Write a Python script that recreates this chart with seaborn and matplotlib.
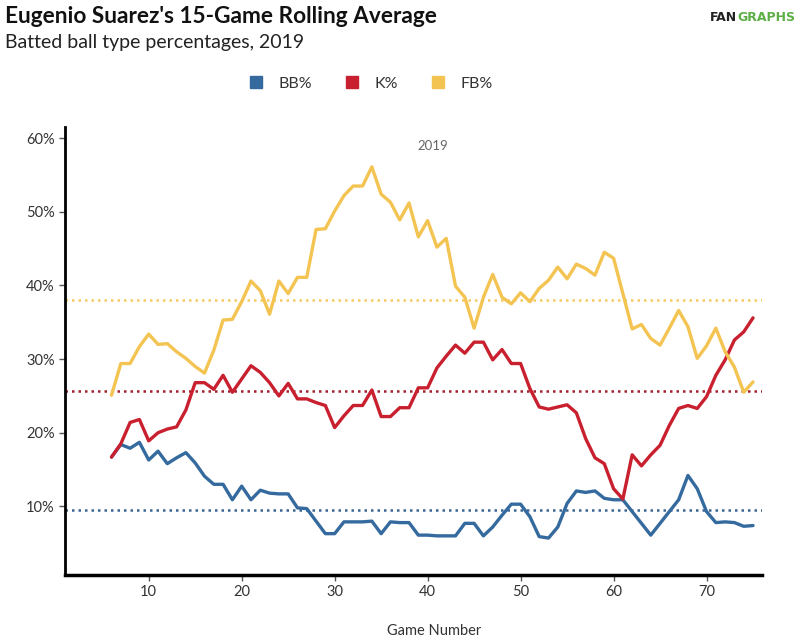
import numpy as np
import pandas as pd
import seaborn as sns
import matplotlib.pyplot as plt
from matplotlib.lines import Line2D

# rolling 15-game values, games 6..75
games = list(range(6, 76))

bb_pct = [16.7, 18.4, 17.9, 18.7, 16.3, 17.5, 15.8, 16.6, 17.3, 15.9,
          14.1, 13.0, 13.0, 10.9, 12.75, 10.9, 12.2, 11.8, 11.7, 11.7,
          9.8, 9.7, 8.0, 6.3, 6.3, 7.9, 7.9, 7.9, 8.0, 6.3,
          7.9, 7.8, 7.8, 6.1, 6.1, 6.0, 6.0, 6.0, 7.7, 7.7,
          6.0, 7.2, 8.8, 10.3, 10.3, 8.6, 5.9, 5.7, 7.2, 10.4,
          12.1, 11.9, 12.1, 11.1, 10.9, 10.9, 9.3, 7.7, 6.1, 7.7,
          9.3, 10.9, 14.2, 12.4, 9.3, 7.8, 7.9, 7.8, 7.3, 7.4]

k_pct = [16.7, 18.5, 21.4, 21.8, 18.9, 20.0, 20.5, 20.8, 23.1, 26.8,
         26.8, 25.9, 27.8, 25.5, 27.3, 29.1, 28.2, 26.8, 25.0, 26.7,
         24.6, 24.6, 24.1, 23.7, 20.7, 22.3, 23.7, 23.7, 25.8, 22.2,
         22.2, 23.4, 23.4, 26.1, 26.1, 28.8, 30.4, 31.9, 30.8, 32.3,
         32.3, 29.9, 31.3, 29.4, 29.4, 26.0, 23.5, 23.2, 23.5, 23.8,
         22.7, 19.2, 16.6, 15.8, 12.4, 11.0, 17.0, 15.5, 17.0, 18.3,
         21.0, 23.3, 23.7, 23.3, 24.9, 27.8, 29.9, 32.6, 33.7, 35.6]

fb_pct = [25.1, 29.4, 29.4, 31.7, 33.4, 32.0, 32.1, 31.0, 30.1, 29.0,
          28.1, 31.2, 35.3, 35.4, 37.8, 40.6, 39.3, 36.1, 40.6, 38.9,
          41.1, 41.1, 47.6, 47.7, 50.1, 52.2, 53.5, 53.5, 56.1, 52.4,
          51.3, 48.9, 51.2, 46.6, 48.8, 45.2, 46.4, 39.9, 38.4, 34.2,
          38.4, 41.5, 38.4, 37.5, 39.0, 37.8, 39.6, 40.7, 42.5, 40.9,
          42.9, 42.3, 41.4, 44.5, 43.7, 38.9, 34.1, 34.7, 32.8, 31.9,
          34.2, 36.6, 34.4, 30.1, 31.8, 34.2, 31.0, 28.9, 25.5, 26.9]

series = ["BB%", "K%", "FB%"]
season_avg = [9.45, 25.7, 38.0]
y_ticks = [10, 20, 30, 40, 50, 60]
x_ticks = [10, 20, 30, 40, 50, 60, 70]

colors = {"BB%": "#356a9f", "K%": "#c9202f", "FB%": "#f4c453"}
avg_colors = {"BB%": "#3b6593", "K%": "#a1202b", "FB%": "#f4cb62"}

df = pd.DataFrame({
    "Game": games * 3,
    "value": bb_pct + k_pct + fb_pct,
    "stat": ["BB%"] * len(games) + ["K%"] * len(games) + ["FB%"] * len(games),
})

sns.set_style("white")
plt.rcParams["font.family"] = ["Lato", "DejaVu Sans"]

fig = plt.figure(figsize=(7.96, 6.41), dpi=100)
ax = fig.add_axes([0.0817, 0.1037, 0.876, 0.698])

# season averages as dotted lines
for s, avg in zip(series, season_avg):
    ax.axhline(avg, color=avg_colors[s], linestyle=(0, (1, 1.6)), linewidth=1.8, zorder=1)

sns.lineplot(data=df, x="Game", y="value", hue="stat", hue_order=series,
             palette=colors, linewidth=2.4, legend=False, ax=ax, zorder=3)

ax.set_xlim(1, 76)
ax.set_ylim(0.75, 61.5)
ax.set_xticks(x_ticks)
ax.set_yticks(y_ticks)
ax.set_yticklabels([f"{t}%" for t in y_ticks])
ax.tick_params(axis="both", labelsize=10.5, colors="#333333", length=4, width=1,
               direction="out", left=True, bottom=True)
ax.tick_params(axis="both", color="#555555")

for side in ["top", "right"]:
    ax.spines[side].set_visible(False)
ax.spines["left"].set_color("black")
ax.spines["left"].set_linewidth(2)
ax.spines["bottom"].set_color("black")
ax.spines["bottom"].set_linewidth(2.5)

ax.set_xlabel("Game Number", fontsize=10.5, color="#333333")
ax.xaxis.set_label_coords(0.529, -0.11)
ax.set_ylabel("")

ax.text(0.528, 0.9575, "2019", transform=ax.transAxes, ha="center", va="center",
        fontsize=9.5, color="#666666")

# legend
handles = [Line2D([], [], marker="s", linestyle="", markersize=9,
                  markerfacecolor=colors[s], markeredgecolor=colors[s]) for s in series]
fig.legend(handles, series, loc="center", bbox_to_anchor=(0.46, 0.869), ncol=3,
           frameon=False, fontsize=11.5, handletextpad=0.4, columnspacing=1.5,
           labelcolor="#333333")

# titles
fig.text(0.006, 0.975, "Eugenio Suarez's 15-Game Rolling Average", fontsize=16.3,
         fontweight="bold", ha="left", va="center", color="#111111")
fig.text(0.006, 0.934, "Batted ball type percentages, 2019", fontsize=14,
         ha="left", va="center", color="#222222")

# logo text
fan = fig.text(0.892, 0.972, "FAN", fontsize=9, fontweight="bold", color="#222222",
               ha="left", va="center", family=["DejaVu Sans"])
fig.canvas.draw()
bb = fan.get_window_extent()
fig.text(bb.x1 / fig.bbox.width, 0.972, "GRAPHS", fontsize=9, fontweight="bold",
         color="#5cae45", ha="left", va="center", family=["DejaVu Sans"])

fig.savefig("out.png", dpi=100)
